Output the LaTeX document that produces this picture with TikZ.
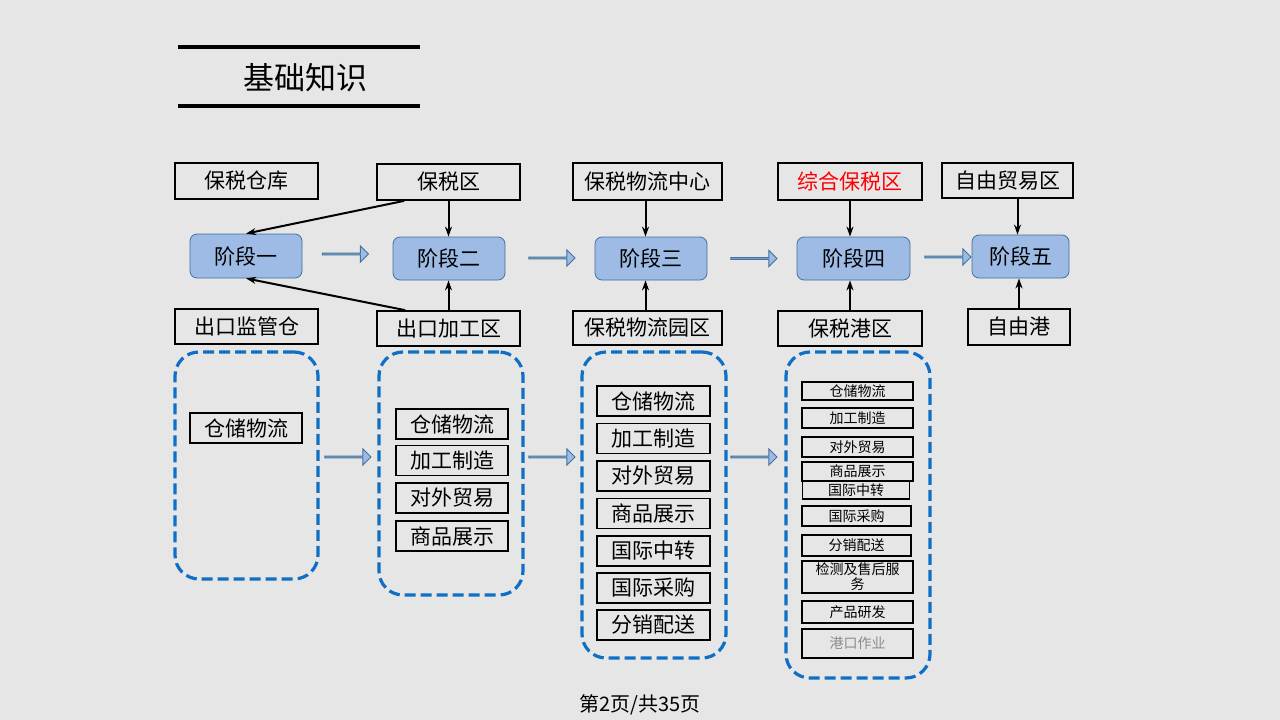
\documentclass[tikz,border=0pt]{standalone}
\usepackage{fontspec}
\setmainfont{Noto Sans CJK SC}
\usetikzlibrary{shapes.arrows,calc,arrows.meta}
\definecolor{bg}{HTML}{E6E6E6}
\definecolor{stagefill}{HTML}{9DBBE4}
\definecolor{stageedge}{HTML}{41719C}
\definecolor{grpblue}{HTML}{0F6FC6}
\definecolor{graytext}{HTML}{8C8C8C}
\tikzset{
  box/.style={draw=black, line width=1.7pt, inner sep=0pt, font=\fontsize{21}{24}\selectfont},
  stage/.style={draw=stageedge, fill=stagefill, rounded corners=7pt, line width=0.8pt, inner sep=0pt, font=\fontsize{21}{24}\selectfont},
  item/.style={draw=black, line width=1.7pt, inner sep=0pt, font=\fontsize{21}{24}\selectfont},
  smallitem/.style={draw=black, line width=1.5pt, inner sep=0pt, align=center, font=\fontsize{14}{15}\selectfont},
  grp/.style={draw=grpblue, line width=3.2pt, dash pattern=on 11pt off 5pt, rounded corners=24pt, inner sep=0pt},
  blk/.style={single arrow, fill=stagefill, draw=stageedge, line width=0.9pt, minimum height=46pt, minimum width=16pt, single arrow head extend=4pt, single arrow head indent=0pt, inner sep=0pt},
  arr/.style={-{Stealth[length=10pt,width=7pt]}, line width=2pt, black},
  titleline/.style={line width=3.5pt, black}
}
\begin{document}
\begin{tikzpicture}[x=1pt,y=-1pt]
\fill[bg] (0,0) rectangle (1280,720);
\useasboundingbox (0,0) rectangle (1280,720);

% title
\coordinate (t1a) at (178,47); \coordinate (t1b) at (420,47);
\coordinate (t2a) at (178,106); \coordinate (t2b) at (420,106);
\draw[titleline] (t1a) -- (t1b);
\draw[titleline] (t2a) -- (t2b);
\node[font=\fontsize{31}{34}\selectfont] (title) at (305,78) {基础知识};

% top row
\node[box, minimum width=143pt, minimum height=36pt] (cangku) at (246.5,181) {保税仓库};
\node[box, minimum width=143pt, minimum height=36pt] (bsq) at (448.5,182) {保税区};
\node[box, minimum width=149pt, minimum height=37pt] (wlzx) at (647.5,181.5) {保税物流中心};
\node[box, minimum width=144pt, minimum height=37pt, text=red] (zhbsq) at (850,181.5) {综合保税区};
\node[box, minimum width=131pt, minimum height=35pt] (zymyq) at (1007.5,180.5) {自由贸易区};

% stages
\node[stage, minimum width=112pt, minimum height=44pt] (s1) at (246,256) {阶段一};
\node[stage, minimum width=112pt, minimum height=43pt] (s2) at (449,258.5) {阶段二};
\node[stage, minimum width=112pt, minimum height=43pt] (s3) at (651,258.5) {阶段三};
\node[stage, minimum width=113pt, minimum height=43pt] (s4) at (853.5,258.5) {阶段四};
\node[stage, minimum width=97pt, minimum height=43pt] (s5) at (1020.5,256.5) {阶段五};

% bottom row
\node[box, minimum width=143pt, minimum height=35pt] (ckjgc) at (246.5,326.5) {出口监管仓};
\node[box, minimum width=143pt, minimum height=35pt] (ckjgq) at (448.5,328.5) {出口加工区};
\node[box, minimum width=149pt, minimum height=34pt] (wlyq) at (647.5,328) {保税物流园区};
\node[box, minimum width=144pt, minimum height=35pt] (bsgq) at (850,328.5) {保税港区};
\node[box, minimum width=102pt, minimum height=36pt] (zyg) at (1019,327) {自由港};

% block arrows (stages)
\node[blk] (ba1) at (345,254) {};
\node[blk] (ba2) at (551.5,258) {};
\node[blk] (ba3) at (753.5,258.5) {};
\node[blk] (ba4) at (947.5,257) {};
% block arrows (groups)
\node[blk] (bb1) at (347.5,457) {};
\node[blk] (bb2) at (551.5,457) {};
\node[blk] (bb3) at (753.5,457) {};

% black arrows
\draw[arr] ($(bsq.south west)+(28,0)$) -- (s1.north);
\draw[arr] ($(ckjgq.north west)+(29,0)$) -- (s1.south);
\draw[arr] (bsq.south) -- (bsq.south |- s2.north);
\draw[arr] (ckjgq.north) -- (ckjgq.north |- s2.south);
\draw[arr] ($(wlzx.south)+(-2,0)$) -- ($(wlzx.south |- s3.north)+(-2,0)$);
\draw[arr] ($(wlyq.north)+(-2,0)$) -- ($(wlyq.north |- s3.south)+(-2,0)$);
\draw[arr] (zhbsq.south) -- (zhbsq.south |- s4.north);
\draw[arr] (bsgq.north) -- (bsgq.north |- s4.south);
\draw[arr] ($(zymyq.south)+(10,0)$) -- ($(zymyq.south |- s5.north)+(10,0)$);
\draw[arr] (zyg.north) -- (zyg.north |- s5.south);

% groups
\node[grp, minimum width=143pt, minimum height=227pt] (g1) at (246.5,465.5) {};
\node[grp, minimum width=144pt, minimum height=243pt] (g2) at (451,473.5) {};
\node[grp, minimum width=144pt, minimum height=306pt] (g3) at (654,505) {};
\node[grp, minimum width=144pt, minimum height=326pt] (g4) at (858,515) {};

% group 1
\node[item, minimum width=112pt, minimum height=30pt] (a1) at (246,428) {仓储物流};

% group 2
\node[item, minimum width=112pt, minimum height=30pt] (b1) at (452,424) {仓储物流};
\node[item, minimum width=112pt, minimum height=30pt] (b2) at (452,460.5) {加工制造};
\node[item, minimum width=112pt, minimum height=30pt] (b3) at (452,498) {对外贸易};
\node[item, minimum width=112pt, minimum height=30pt] (b4) at (452,536) {商品展示};

% group 3
\node[item, minimum width=113pt, minimum height=30pt] (c1) at (653.5,401) {仓储物流};
\node[item, minimum width=113pt, minimum height=30pt] (c2) at (653.5,438.5) {加工制造};
\node[item, minimum width=113pt, minimum height=30pt] (c3) at (653.5,476) {对外贸易};
\node[item, minimum width=113pt, minimum height=30pt] (c4) at (653.5,513.5) {商品展示};
\node[item, minimum width=113pt, minimum height=30pt] (c5) at (653.5,551) {国际中转};
\node[item, minimum width=113pt, minimum height=30pt] (c6) at (653.5,588) {国际采购};
\node[item, minimum width=113pt, minimum height=30pt] (c7) at (653.5,625) {分销配送};

% group 4
\node[smallitem, minimum width=111pt, minimum height=18pt] (d1) at (857.5,391) {仓储物流};
\node[smallitem, minimum width=111pt, minimum height=20pt] (d2) at (857.5,418) {加工制造};
\node[smallitem, minimum width=111pt, minimum height=20pt] (d3) at (857.5,447) {对外贸易};
\node[smallitem, minimum width=111pt, minimum height=19pt] (d4) at (857.5,471.5) {商品展示};
\node[smallitem, minimum width=107pt, minimum height=18pt] (d5) at (856,490) {国际中转};
\node[smallitem, minimum width=109pt, minimum height=20pt] (d6) at (856.5,516) {国际采购};
\node[smallitem, minimum width=109pt, minimum height=21pt] (d7) at (856.5,545.5) {分销配送};
\node[smallitem, minimum width=111pt, minimum height=32pt] (d8) at (857.5,577) {检测及售后服\\务};
\node[smallitem, minimum width=111pt, minimum height=22pt] (d9) at (857.5,612) {产品研发};
\node[smallitem, minimum width=111pt, minimum height=29pt, text=graytext] (d10) at (857.5,643.5) {港口作业};

% footer
\node[font=\fontsize{20}{24}\selectfont] (footer) at (640,705) {第2页/共35页};
\end{tikzpicture}
\end{document}
